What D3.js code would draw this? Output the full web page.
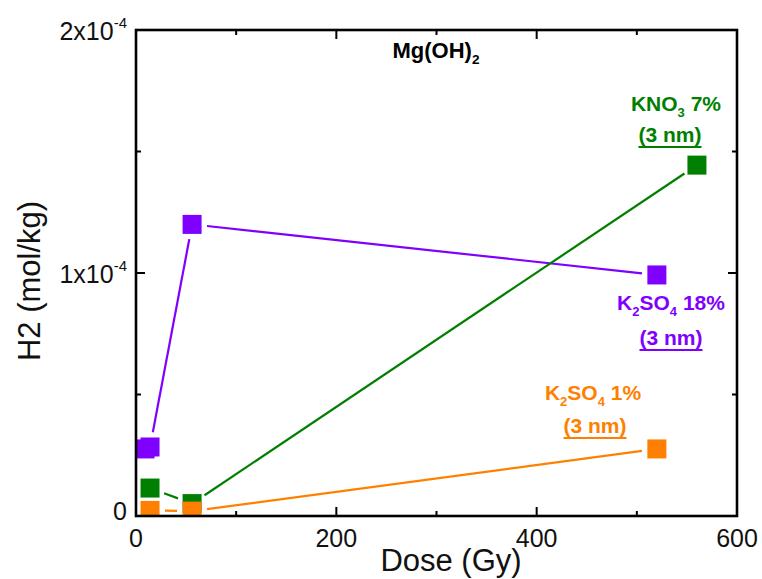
<!DOCTYPE html>
<html><head><meta charset="utf-8">
<script src="https://cdn.jsdelivr.net/npm/d3@7"></script>
<style>body{margin:0;background:#fff}svg{display:block;font-family:Arial,"Liberation Sans",sans-serif}</style>
</head><body>
<svg id="chart" width="762" height="579"></svg>
<script>
// ---- data ----
const xTicksMajor = [0, 200, 400, 600];
const xTicksMinor = [100, 300, 500];
const yTicksMajor = [0, 1e-4, 2e-4];
const yTicksMinor = [0.5e-4, 1.5e-4];
const yTickLabels = ["0", "1x10", "2x10"];

const purpleDose = [9, 14, 56, 520];
const purpleH2   = [0.276e-4, 0.284e-4, 1.20e-4, 0.992e-4];
const greenDose  = [14, 56, 560];
const greenH2    = [0.115e-4, 0.051e-4, 1.444e-4];
const orangeDose = [14, 56, 520];
const orangeH2   = [0.023e-4, 0.020e-4, 0.276e-4];

const seriesNames  = ["K2SO4 18%", "KNO3 7%", "K2SO4 1%"];
const seriesColors = ["#8000ff", "#007f00", "#ff8000"];

// ---- layout ----
const svg = d3.select("#chart");
const L = 136, R = 737, T = 30, B = 516;
const x = d3.scaleLinear().domain([0, 600]).range([L, R]);
const y = d3.scaleLinear().domain([0, 2e-4]).range([B, T]);

svg.append("defs").append("clipPath").attr("id", "clip")
  .append("rect").attr("x", L).attr("y", T).attr("width", R - L).attr("height", B - T);

const series = [
  {dose: purpleDose, h2: purpleH2, color: seriesColors[0]},
  {dose: greenDose, h2: greenH2, color: seriesColors[1]},
  {dose: orangeDose, h2: orangeH2, color: seriesColors[2]}
];

const plot = svg.append("g").attr("clip-path", "url(#clip)");
const gap = 15, msize = 19;
series.forEach(s => {
  const pts = s.dose.map((d, i) => [x(d), y(s.h2[i])]);
  for (let i = 0; i < pts.length - 1; i++) {
    const [x1, y1] = pts[i], [x2, y2] = pts[i + 1];
    const len = Math.hypot(x2 - x1, y2 - y1);
    if (len <= 2 * gap) continue;
    const ux = (x2 - x1) / len, uy = (y2 - y1) / len;
    plot.append("line")
      .attr("x1", x1 + ux * gap).attr("y1", y1 + uy * gap)
      .attr("x2", x2 - ux * gap).attr("y2", y2 - uy * gap)
      .attr("stroke", s.color).attr("stroke-width", 2.2);
  }
});
series.forEach(s => {
  plot.selectAll(null).data(s.dose.map((d, i) => [d, s.h2[i]])).enter()
    .append("rect")
    .attr("x", d => x(d[0]) - msize / 2).attr("y", d => y(d[1]) - msize / 2)
    .attr("width", msize).attr("height", msize)
    .attr("fill", s.color);
});

// ---- axes (ticks inward, mirrored) ----
const ax = svg.append("g").attr("stroke", "#000").attr("stroke-width", 2);
const majLen = 9, minLen = 5;
xTicksMajor.concat(xTicksMinor).forEach(v => {
  const len = xTicksMajor.includes(v) ? majLen : minLen;
  ax.append("line").attr("x1", x(v)).attr("x2", x(v)).attr("y1", B).attr("y2", B - len);
  ax.append("line").attr("x1", x(v)).attr("x2", x(v)).attr("y1", T).attr("y2", T + len);
});
yTicksMajor.concat(yTicksMinor).forEach(v => {
  const len = yTicksMajor.includes(v) ? majLen : minLen;
  ax.append("line").attr("y1", y(v)).attr("y2", y(v)).attr("x1", L).attr("x2", L + len);
  ax.append("line").attr("y1", y(v)).attr("y2", y(v)).attr("x1", R).attr("x2", R - len);
});
svg.append("rect").attr("x", L).attr("y", T).attr("width", R - L).attr("height", B - T)
  .attr("fill", "none").attr("stroke", "#000").attr("stroke-width", 2.6);

// x tick labels
svg.selectAll(null).data(xTicksMajor).enter().append("text")
  .attr("x", d => x(d)).attr("y", 547).attr("text-anchor", "middle")
  .attr("font-size", 25).attr("fill", "#111").text(d => d);

// y tick labels
yTicksMajor.forEach((v, i) => {
  const t = svg.append("text").attr("x", 127).attr("text-anchor", "end")
    .attr("font-size", 25).attr("fill", "#111");
  if (v === 0) {
    t.attr("y", 520).text(yTickLabels[i]);
  } else {
    t.attr("y", y(v) + 10);
    t.append("tspan").text(yTickLabels[i]);
    t.append("tspan").attr("font-size", 15).attr("dy", -12).text("-4");
  }
});

// axis titles
svg.append("text").attr("x", 451).attr("y", 571).attr("text-anchor", "middle")
  .attr("font-size", 31).attr("fill", "#111").text("Dose (Gy)");
svg.append("text").attr("transform", "translate(40,281) rotate(-90)")
  .attr("text-anchor", "middle").attr("font-size", 31).attr("fill", "#111").text("H2 (mol/kg)");

// annotations
function chem(parts, cx, by, color, size) {
  const t = svg.append("text").attr("x", cx).attr("y", by).attr("text-anchor", "middle")
    .attr("font-size", size).attr("font-weight", "bold").attr("fill", color);
  let lowered = false;
  parts.forEach(p => {
    const ts = t.append("tspan").text(p.s);
    if (p.sub) {
      ts.attr("font-size", size * 0.62).attr("dy", lowered ? 0 : 6);
      lowered = true;
    } else {
      if (lowered) ts.attr("dy", -6);
      lowered = false;
    }
  });
  return t;
}
function underlined(txt, cx, by, color, size) {
  const t = svg.append("text").attr("x", cx).attr("y", by).attr("text-anchor", "middle")
    .attr("font-size", size).attr("font-weight", "bold").attr("fill", color).text(txt);
  const bb = t.node().getBBox();
  svg.append("line").attr("x1", bb.x).attr("x2", bb.x + bb.width)
    .attr("y1", by + 5).attr("y2", by + 5).attr("stroke", color).attr("stroke-width", 1.8);
}
chem([{s: "Mg(OH)"}, {s: "2", sub: true}], 436, 58, "#000", 22);
chem([{s: "KNO"}, {s: "3", sub: true}, {s: " 7%"}], 676, 111, seriesColors[1], 21);
underlined("(3 nm)", 670, 142, seriesColors[1], 21);
chem([{s: "K"}, {s: "2", sub: true}, {s: "SO"}, {s: "4", sub: true}, {s: " 18%"}], 671, 310, seriesColors[0], 21);
underlined("(3 nm)", 671, 345, seriesColors[0], 21);
chem([{s: "K"}, {s: "2", sub: true}, {s: "SO"}, {s: "4", sub: true}, {s: " 1%"}], 593, 400, seriesColors[2], 21);
underlined("(3 nm)", 595, 433, seriesColors[2], 21);
</script>
</body></html>
